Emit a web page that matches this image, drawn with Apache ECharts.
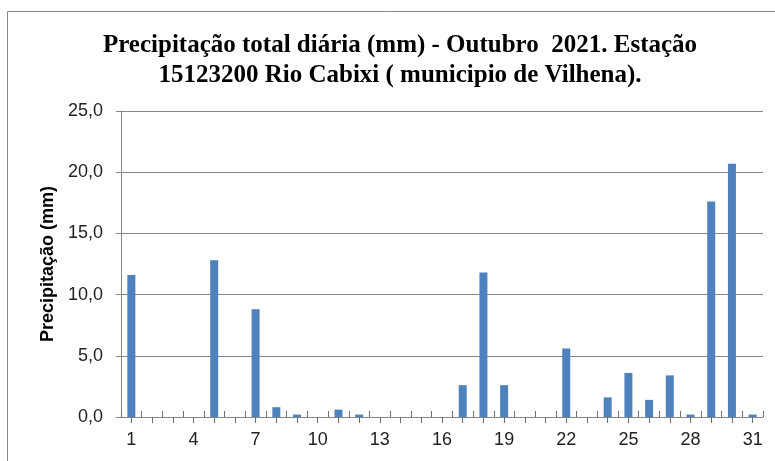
<!DOCTYPE html>
<html>
<head>
<meta charset="utf-8">
<script src="https://cdn.jsdelivr.net/npm/echarts@6/dist/echarts.min.js"></script>
<style>
  html, body { margin: 0; padding: 0; background: #fff; }
  #chart { width: 775px; height: 461px; }
</style>
</head>
<body>
<div id="chart"></div>
<script>
// dias de outubro
const days = ['1','2','3','4','5','6','7','8','9','10','11','12','13','14','15','16',
              '17','18','19','20','21','22','23','24','25','26','27','28','29','30','31'];
// precipitação diária (mm)
const rain = [11.6, 0, 0, 0, 12.8, 0, 8.8, 0.8, 0.2, 0, 0.6, 0.2, 0, 0, 0, 0,
              2.6, 11.8, 2.6, 0, 0, 5.6, 0, 1.6, 3.6, 1.4, 3.4, 0.2, 17.6, 20.7, 0.2];
const yTicks = [0, 5, 10, 15, 20, 25];

const gray = '#868686';
const chart = echarts.init(document.getElementById('chart'));

chart.setOption({
    animation: false,
    title: {
        text: 'Precipitação total diária (mm) - Outubro  2021. Estação\n15123200 Rio Cabixi ( municipio de Vilhena).',
        left: 395,
        top: 26,
        textAlign: 'center',
        textStyle: {
            fontFamily: 'Liberation Serif',
            fontWeight: 'bold',
            fontSize: 25,
            lineHeight: 30,
            color: '#000'
        }
    },
    // moldura do gráfico
    graphic: [{
        type: 'rect',
        shape: { x: 7.5, y: 11.5, width: 820, height: 500 },
        style: { fill: 'none', stroke: gray, lineWidth: 1 }
    }],
    grid: { left: 121, right: 12, top: 111, bottom: 44 },
    xAxis: [
        {
            type: 'category',
            data: days,
            axisLine: { show: true, lineStyle: { color: gray } },
            axisTick: { show: true, alignWithLabel: true, interval: 0, length: 6, lineStyle: { color: '#6e6e6e', width: 1 } },
            axisLabel: {
                interval: 2,
                margin: 14,
                fontFamily: 'Liberation Sans',
                fontSize: 18,
                color: '#222'
            }
        },
        {
            // marcas curtas entre as categorias
            type: 'category',
            data: days,
            position: 'bottom',
            offset: 0,
            axisLine: { show: false },
            axisTick: { show: true, inside: true, interval: 0, length: 6, lineStyle: { color: '#6e6e6e', width: 1 } },
            axisLabel: { show: false }
        }
    ],
    yAxis: {
        type: 'value',
        min: yTicks[0],
        max: yTicks[yTicks.length - 1],
        interval: 5,
        name: 'Precipitação (mm)',
        nameLocation: 'middle',
        nameGap: 64,
        nameTextStyle: {
            fontFamily: 'Liberation Sans',
            fontWeight: 'bold',
            fontSize: 18,
            color: '#000'
        },
        axisLine: { show: true, lineStyle: { color: gray } },
        axisTick: { show: true, length: 5, lineStyle: { color: gray } },
        splitLine: { lineStyle: { color: gray, width: 1 } },
        axisLabel: {
            margin: 18,
            fontFamily: 'Liberation Sans',
            fontSize: 18,
            color: '#222',
            formatter: v => v.toFixed(1).replace('.', ',')
        }
    },
    series: [{
        type: 'bar',
        data: rain,
        barWidth: 8,
        itemStyle: { color: '#4f81bd' }
    }]
});
</script>
</body>
</html>
